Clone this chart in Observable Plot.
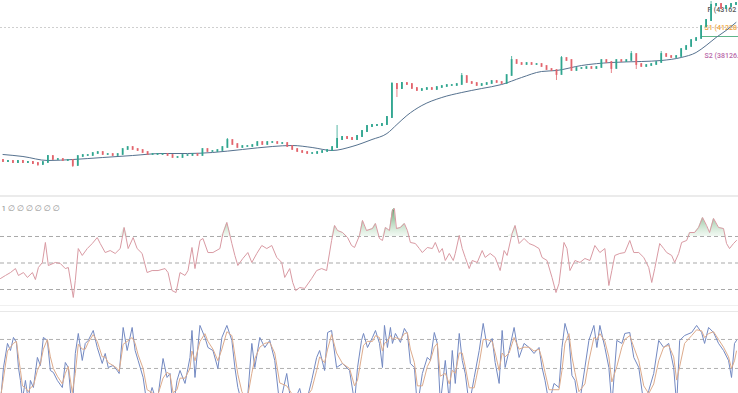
<!DOCTYPE html>
<html><head><meta charset="utf-8">
<script src="https://cdn.jsdelivr.net/npm/d3@7"></script>
<script src="https://cdn.jsdelivr.net/npm/@observablehq/plot@0.6"></script>
<style>
html,body{margin:0;padding:0;background:#fff;}
#chart{width:738px;height:393px;overflow:hidden;}
#chart svg{display:block;overflow:hidden !important;}
.sep{width:738px;}
</style></head><body><div id="chart"></div>
<script>
// ---------- price panel data (bar index 0..147) ----------
const firstOpen = 26600;
const closes = [
26490,26490,26380,26490,26380,26380,26270,26160,26380,
27040,26710,26710,26600,26600,26050,27040,27150,27150,
27370,27480,27260,27260,27150,27260,27810,28030,27810,
27700,27480,27260,27260,27260,27260,27150,26930,26930,
27150,27150,27260,27150,27810,27590,27590,27700,28030,
28800,28360,28030,28140,28140,28250,28580,28360,28580,
28580,28470,28470,28140,27810,27590,27480,27370,27370,
27480,27590,27700,28030,28910,29130,29020,28910,29240,
29790,30340,30450,30450,30560,31330,34960,34520,35070,
34960,34520,34300,34410,34520,34410,34630,34740,34850,
34850,34960,35840,35180,35070,34850,34960,35070,35290,
35180,35070,35950,37600,37270,37160,37270,37160,37160,
36940,36610,36500,36060,37820,37600,36500,36720,36720,
36830,36720,36830,37600,37380,36720,37600,37490,37600,
38260,37160,36940,37050,37160,37380,38260,38040,37930,
38040,38810,39140,39800,40020,41340,42000,43650,43760,
43320,43540,43760,43870];
const wickHighBars   = [9, 45, 67, 78, 92, 102, 112, 126, 132, 142];
const wickHighValues = [27150, 29020, 30450, 35180, 36170, 38040, 38040, 38590, 38590, 44090];
const wickLowBars    = [7, 14, 79, 111, 122, 127];
const wickLowValues  = [25940, 25830, 33530, 35400, 36170, 36610];

const maBars   = [0,4,9,14,20,26,32,37,42,48,54,58,62,66,70,74,77,79,81,84,88,92,96,100,104,108,111,116,122,128,132,136,139,141,143,145,147];
const maValues = [27260,27040,26600,26710,26930,27150,27370,27370,27480,27810,28140,28250,28030,27700,28140,28910,29570,30560,31550,32650,33530,34080,34520,34960,35730,36390,36500,37050,37380,37490,37600,37930,38480,39250,40130,40900,41780];

// pivot labels, as much of each as the reference shows
const pivotLabels = ["P (43162", "S1 (41228", "S2 (38126."];
const pivotValues = [43162.45, 41228.10, 38126.37];
const greenLevel  = 40240;
const greenLevelFrom = 140.2;

// ---------- RSI data ----------
const rsiT = [-0.5,0.5,1.5,2.5,3.1,4.1,4.9,5.9,6.5,7.1,
 7.9,8.5,9.1,10.5,11.5,12.5,13.1,14.1,14.5,15.1,
 15.9,16.9,17.9,18.9,19.5,20.5,21.5,22.5,23.5,24.3,
 25.1,26.1,26.9,27.9,28.9,29.9,31.1,32.5,33.1,33.9,
 34.7,35.5,36.5,37.1,37.9,38.5,39.5,40.1,41.1,42.1,
 43.5,44.1,44.9,45.9,46.5,47.1,48.1,49.1,49.9,50.9,
 51.9,52.9,53.9,54.9,55.9,56.5,57.5,58.1,58.7,59.5,
 60.5,61.9,62.9,63.9,64.9,65.9,66.5,67.1,68.1,69.1,
 69.9,70.5,71.5,72.1,72.9,74.1,74.7,75.5,76.1,76.7,
 77.5,78.1,78.5,78.9,79.7,80.5,81.1,81.7,82.7,83.5,
 84.1,85.1,86.1,86.7,87.5,88.1,88.7,89.5,90.3,90.7,
 91.5,92.1,92.7,93.5,94.1,95.1,96.1,96.7,97.7,98.7,
 99.7,100.5,101.1,102.1,102.7,103.5,104.5,105.5,106.5,107.5,
 108.1,109.1,110.1,110.9,111.5,112.5,113.1,113.7,114.7,115.7,
 116.7,117.7,118.7,119.7,120.7,121.5,122.1,122.7,123.7,124.7,
 125.7,126.5,127.5,128.5,129.5,130.1,130.7,131.7,132.5,133.1,
 134.1,134.7,135.5,136.1,137.1,137.7,138.7,139.5,140.3,141.1,
 141.7,142.5,143.5,144.5,145.1,145.7,146.5,147.1];
const rsiV = [38.3,40.6,42.8,45.8,40.6,42.8,39.1,42.8,37.5,46.6,
 50.4,65.5,48.1,50.4,49.6,45.8,46.6,24.0,36.8,60.9,
 55.7,60.9,64.7,69.2,64.7,57.9,59.4,57.2,60.9,76.8,
 60.9,69.2,60.9,57.2,42.8,44.3,44.3,45.8,42.8,29.2,
 27.7,42.8,40.6,44.3,61.7,45.8,67.0,68.5,57.9,57.9,
 60.9,72.3,80.6,64.7,55.7,48.1,53.4,57.9,50.4,57.2,
 63.2,60.9,63.2,54.2,50.4,39.1,45.8,35.3,29.2,31.5,
 30.8,38.3,44.3,45.8,44.3,67.0,78.3,74.5,73.0,69.2,
 63.2,61.7,70.8,82.1,74.5,76.0,79.8,68.5,67.0,76.8,
 74.5,89.6,91.1,76.0,76.8,79.8,74.5,65.5,64.7,60.9,
 57.9,61.7,60.9,65.5,57.9,60.9,51.9,57.2,51.9,57.2,
 70.8,60.9,54.2,45.8,51.9,50.4,59.4,54.2,57.2,54.2,
 44.3,59.4,55.7,72.3,78.3,64.7,68.5,64.7,63.2,60.9,
 54.2,51.9,39.1,27.7,34.5,65.5,60.9,44.3,51.9,50.4,
 53.4,51.9,63.2,57.9,60.9,33.0,44.3,55.7,57.2,57.9,
 67.0,57.9,57.9,54.2,46.6,35.3,45.8,64.7,60.9,57.9,
 55.7,50.4,57.2,65.5,67.0,73.0,73.0,76.8,84.3,78.3,
 73.0,83.6,76.8,76.0,64.7,60.9,64.7,67.0];
const rsiLevels = [70, 50, 30];
const rsiHeader = "1 \u2205 \u2205 \u2205 \u2205 \u2205 \u2205";

// ---------- Stochastic data ----------
const stochT = [-0.5,0.1,0.9,1.5,2.1,2.7,3.1,3.5,3.9,4.5,
 5.1,5.5,6.1,6.9,7.5,8.1,8.9,9.5,10.1,10.9,
 11.9,12.5,13.1,13.9,14.5,15.1,15.9,16.5,17.1,18.1,
 18.9,19.9,20.5,21.1,22.1,22.9,23.3,24.1,24.9,25.9,
 26.5,27.1,28.1,28.9,29.9,30.9,32.1,32.9,33.5,34.1,
 34.9,35.5,36.5,37.5,37.9,38.5,39.5,40.5,41.1,42.1,
 43.1,43.9,44.9,45.9,46.5,47.1,47.9,48.9,49.9,50.5,
 51.5,52.5,53.5,54.5,55.5,56.9,57.9,59.5,60.5,61.9,
 62.9,63.5,64.5,65.1,65.9,66.9,68.1,69.5,70.5,71.1,
 71.9,72.3,73.1,74.1,74.7,75.5,76.1,76.5,77.1,77.7,
 78.1,78.7,79.7,80.5,81.1,81.7,82.5,83.1,84.1,85.1,
 85.7,86.5,87.1,87.7,88.7,89.5,90.1,90.7,91.5,92.1,
 92.7,93.5,94.5,95.5,96.3,97.1,98.1,98.7,99.5,100.1,
 100.7,101.5,102.5,103.5,104.5,105.5,106.5,107.5,108.1,108.7,
 109.5,110.5,111.5,112.1,112.7,113.5,114.1,114.7,115.5,116.7,
 117.5,118.5,119.1,119.7,120.7,121.5,122.1,123.1,124.1,124.7,
 125.7,126.5,127.5,128.5,129.5,130.5,131.5,132.5,133.5,134.5,
 135.1,135.7,136.7,138.1,139.1,140.1,140.7,141.5,142.5,143.5,
 144.5,145.5,146.1,146.7,147.1];
const stochK = [15,51,75.9,68.6,82.1,76.9,51,37.6,18,37.6,
 16,37.6,30.3,61.4,53.1,82.1,79,47.9,45.9,37.6,
 30.3,56.2,51,5,65.5,86.2,58.3,75.9,79,89.3,
 71.7,55.2,65.5,51,53.1,47.9,44.8,92.4,68.6,92.4,
 68.6,58.3,40.7,12,30.3,14,60.3,40.7,44.8,8,
 37.6,47.9,34.5,61.4,89.3,40.7,94.5,82.1,71.7,68.6,
 50,82.1,94.5,79,51,30.3,14,10,75.9,51,
 82.1,71.7,79,58.3,12,44.8,10,29.3,8,37.6,
 61.4,68.6,47.9,87.2,89.3,51,55.2,47.9,15,51,
 79,86.2,71.7,82.1,89.3,75.9,51,94.5,71.7,92.4,
 75.9,86.2,76.9,91.4,86.2,55.2,51,10,44.8,61.4,
 58.3,87.2,75.9,14,58.3,16,68.6,34.5,86.2,58.3,
 44.8,12,40.7,68.6,96.6,71.7,81,56.2,34.5,89.3,
 51,68.6,92.4,61.4,75.9,71.7,65.5,71.7,51,37.6,
 14,34.5,30.3,71.7,96.6,82.1,42.8,37.6,10,51,
 79,94.5,71.7,94.5,71.7,51,12,79,75.9,86.2,
 87.2,61.4,51,14,27.2,44.8,79,71.7,75.9,51,
 12,79,84.1,87.2,94.5,87.2,75.9,92.4,87.2,75.9,
 68.6,58.3,40.7,75.9,79];
const stochD = [20,40,68,72,76,78,62,48,32,30,
 26,30,32,48,55,70,80,62,50,42,
 34,45,52,25,45,75,70,70,77,85,
 78,62,62,56,53,50,47,75,78,82,
 76,64,50,28,25,20,40,46,44,25,
 28,40,40,50,68,58,78,86,78,70,
 58,70,88,84,64,44,26,16,45,60,
 72,76,77,66,35,32,24,22,18,28,
 48,62,56,70,85,66,55,50,32,38,
 62,74,78,78,84,82,68,76,78,84,
 80,82,80,86,87,70,56,32,32,52,
 58,72,76,42,45,34,48,45,66,66,
 52,30,30,55,80,80,78,66,48,66,
 62,66,82,70,72,72,68,70,60,46,
 28,28,28,48,76,86,62,46,26,34,
 58,82,80,86,78,62,36,52,72,80,
 84,72,58,32,24,34,58,72,74,62,
 38,52,76,84,90,89,82,86,88,80,
 72,62,50,58,68];
const stochLevels = [80, 50, 20];

// ---------- build tables ----------
const hiMap = new Map(wickHighBars.map((b, i) => [b, wickHighValues[i]]));
const loMap = new Map(wickLowBars.map((b, i) => [b, wickLowValues[i]]));
const candles = closes.map((c, i) => {
  const open = i ? closes[i - 1] : firstOpen;
  const high = Math.max(open, c, hiMap.get(i) ?? -Infinity);
  const low = Math.min(open, c, loMap.get(i) ?? Infinity);
  return {i, open, close: c, high, low};
});
const up = candles.filter(d => d.close >= d.open);
const down = candles.filter(d => d.close < d.open);
const ma = maBars.map((t, i) => ({t, v: maValues[i]}));
const rsi = rsiT.map((t, i) => ({t, v: rsiV[i]}));
const stoch = stochT.map((t, i) => ({t, k: stochK[i], d: stochD[i]}));

const UP = "#2fa58f", DOWN = "#e2646c";
const pivotColors = ["#555555", "#eea43c", "#b866a8"];
const xDomain = [-0.5, 147.5];
const baseStyle = {fontFamily: "Roboto, 'DejaVu Sans', sans-serif", fontSize: "9px", background: "white"};

const chart = document.getElementById("chart");

// ---------- Panel 1: price ----------
const p1 = Plot.plot({
  width: 738, height: 195, margin: 0,
  style: baseStyle,
  x: {domain: xDomain, axis: null},
  y: {domain: [22750, 44200], axis: null},
  marks: [
    Plot.ruleY([pivotValues[1]], {stroke: "#cfcfcf", strokeDasharray: "2,2", strokeWidth: 1.2}),
    Plot.ruleY([greenLevel], {x1: greenLevelFrom, x2: xDomain[1], stroke: "#5fb58a", strokeWidth: 1.2}),
    ...pivotLabels.map((n, i) => Plot.text([n], {
      x: 140.5, y: pivotValues[i], text: d => d,
      textAnchor: "start", dx: i === 0 ? 4 : 1, fill: pivotColors[i], fontSize: 7, fontWeight: 500
    })),
    Plot.line(ma, {x: "t", y: "v", stroke: "#56728f", strokeWidth: 1, curve: "monotone-x"}),
    Plot.ruleX(up, {x: "i", y1: "low", y2: "high", stroke: UP, strokeWidth: 0.8}),
    Plot.ruleX(down, {x: "i", y1: "low", y2: "high", stroke: DOWN, strokeWidth: 0.8}),
    Plot.ruleX(up, {x: "i", y1: "open", y2: "close", stroke: UP, strokeWidth: 1.8, strokeLinecap: "square"}),
    Plot.ruleX(down, {x: "i", y1: "open", y2: "close", stroke: DOWN, strokeWidth: 1.8, strokeLinecap: "square"})
  ]
});
chart.appendChild(p1);
const sep1 = document.createElement("div");
sep1.className = "sep"; sep1.style.height = "2px"; sep1.style.background = "#ebebeb";
chart.appendChild(sep1);

// ---------- Panel 2: RSI ----------
const p2 = Plot.plot({
  width: 738, height: 108, margin: 0,
  style: baseStyle,
  x: {domain: xDomain, axis: null},
  y: {domain: [17.93, 99.43], axis: null},
  marks: [
    Plot.ruleY(rsiLevels, {stroke: "#a9a9a9", strokeDasharray: "4,3", strokeWidth: 1}),
    Plot.areaY(rsi, {x: "t", y1: rsiLevels[0], y2: d => Math.max(d.v, rsiLevels[0]), fill: "url(#rsiGrad)"}),
    Plot.line(rsi, {x: "t", y: "v", stroke: "#d99aa3", strokeWidth: 1}),
    Plot.text([rsiHeader], {frameAnchor: "top-left", dx: 1, dy: 8, textAnchor: "start", fill: "#8c8c8c", fontSize: 8})
  ]
});
d3.select(p2).insert("defs", ":first-child").html(
  `<linearGradient id="rsiGrad" x1="0" y1="0" x2="0" y2="1">
     <stop offset="0" stop-color="#3d8a4c" stop-opacity="0.85"/>
     <stop offset="1" stop-color="#9fd3a8" stop-opacity="0.15"/>
   </linearGradient>`);
chart.appendChild(p2);
const sep2 = document.createElement("div");
sep2.className = "sep"; sep2.style.height = "1px"; sep2.style.background = "#f0f0f0";
chart.appendChild(sep2);
const gap = document.createElement("div");
gap.className = "sep"; gap.style.height = "5px"; gap.style.background = "#fff";
chart.appendChild(gap);
const sep3 = document.createElement("div");
sep3.className = "sep"; sep3.style.height = "1px"; sep3.style.background = "#e8e8e8";
chart.appendChild(sep3);

// ---------- Panel 3: Stochastic ----------
const p3 = Plot.plot({
  width: 738, height: 81, margin: 0,
  style: baseStyle,
  x: {domain: xDomain, axis: null},
  y: {domain: [24.1, 107.9], axis: null},
  marks: [
    Plot.ruleY(stochLevels, {stroke: "#b0b0b0", strokeDasharray: "4,3", strokeWidth: 1}),
    Plot.line(stoch, {x: "t", y: "k", stroke: "#7389c2", strokeWidth: 1}),
    Plot.line(stoch, {x: "t", y: "d", stroke: "#ddab8c", strokeWidth: 1})
  ]
});
chart.appendChild(p3);
</script></body></html>
